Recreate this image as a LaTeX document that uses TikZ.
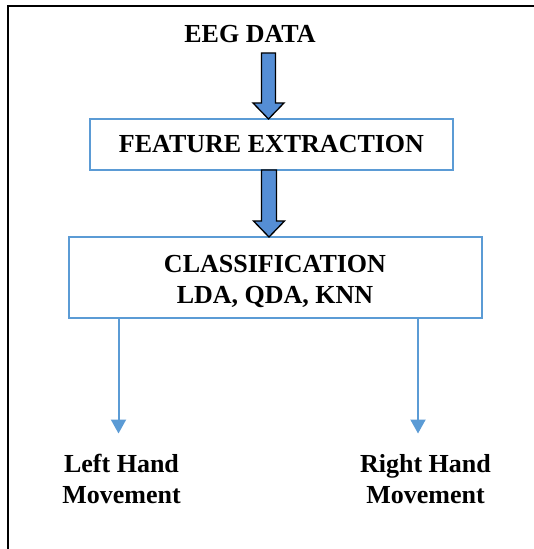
\documentclass[tikz,border=0pt]{standalone}
\usepackage{fontspec}
\setmainfont{Liberation Serif}
\usetikzlibrary{arrows.meta,calc}
\definecolor{boxblue}{RGB}{91,155,213}
\definecolor{arrowblue}{RGB}{85,142,213}
\tikzset{
  txt/.style={font=\fontsize{26bp}{31bp}\selectfont\bfseries, inner sep=0pt},
  box/.style={draw=boxblue, line width=2bp, outer sep=0pt, inner sep=0pt, font=\fontsize{26bp}{31bp}\selectfont\bfseries},
  blockarr/.style={fill=arrowblue, draw=black, line width=1.3bp, line join=miter},
  conn/.style={draw=boxblue, line width=2bp, -{Triangle[width=15bp,length=14bp]}},
  frame/.style={draw=black, line width=2bp}
}
\begin{document}
\begin{tikzpicture}[x=1bp,y=-1bp]
\useasboundingbox (0,0) rectangle (534,549);
\fill[white] (0,0) rectangle (534,549);
% frame
\draw[frame] (7.5,549) -- (7.5,6) -- (534,6);
% nodes
\node[txt, anchor=base] (eeg) at (250,42.5) {EEG DATA};
\node[box, minimum width=363bp, minimum height=51bp] (feat) at (271.5,144.5) {FEATURE EXTRACTION};
\node[box, minimum width=413bp, minimum height=81bp] (cls) at (275.5,277.5) {};
\node[txt, align=center] (clstxt) at (275,281) {CLASSIFICATION\\LDA, QDA, KNN};
\node[txt, align=center] (lefttxt) at (121.5,479) {Left Hand\\Movement};
\node[txt, align=center] (righttxt) at (425.5,479) {Right Hand\\Movement};
% block arrow 1
\coordinate (a1top) at (268.5,53);
\coordinate (a1tip) at (a1top |- feat.north);
\draw[blockarr] ($(a1top)+(-7,0)$) -- ($(a1top)+(7,0)$) -- ($(a1tip)+(7,-16)$) -- ($(a1tip)+(15.5,-16)$) -- (a1tip) -- ($(a1tip)+(-15.5,-16)$) -- ($(a1tip)+(-7,-16)$) -- cycle;
% block arrow 2
\coordinate (a2x) at (269,0);
\coordinate (a2top) at (a2x |- feat.south);
\coordinate (a2tip) at (a2x |- cls.north);
\draw[blockarr] ($(a2top)+(-7.5,0)$) -- ($(a2top)+(7.5,0)$) -- ($(a2tip)+(7.5,-16)$) -- ($(a2tip)+(15.5,-16)$) -- (a2tip) -- ($(a2tip)+(-15.5,-16)$) -- ($(a2tip)+(-7.5,-16)$) -- cycle;
% connectors
\coordinate (ltip) at (118.5,433.5);
\coordinate (rtip) at (418,433.5);
\draw[conn] (ltip |- cls.south) -- (ltip);
\draw[conn] (rtip |- cls.south) -- (rtip);
\end{tikzpicture}
\end{document}
